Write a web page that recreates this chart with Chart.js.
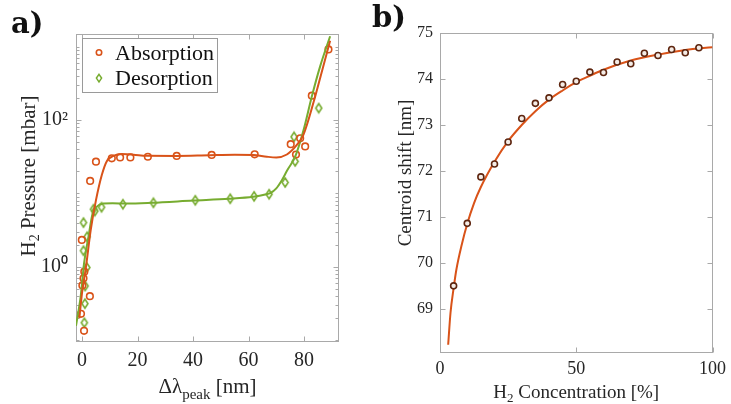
<!DOCTYPE html>
<html><head><meta charset="utf-8">
<script src="https://cdn.jsdelivr.net/npm/chart.js@4/dist/chart.umd.min.js"></script>
<style>
html,body{margin:0;padding:0;background:#fff;width:731px;height:404px;overflow:hidden}
#wa{position:absolute;left:0;top:0;width:365px;height:404px}
#wb{position:absolute;left:365px;top:0;width:366px;height:404px}
</style></head><body>
<div id="wa"><canvas id="ca"></canvas></div>
<div id="wb"><canvas id="cb"></canvas></div>
<script>
// ---------- panel a) data ----------
const absX = [-0.4, 0.7, 2.8, 0.1, 0.5, 0.8, -0.1, 2.9, 5.0, 10.7, 13.7, 17.4, 23.7, 34.1, 46.7, 62.2, 75.2, 77.1, 78.6, 80.4, 82.8, 88.8];
const absP = [0.23, 0.135, 0.40, 0.56, 0.70, 0.86, 2.33, 14.8, 27.1, 30.1, 30.9, 30.9, 31.6, 32.4, 33.4, 34.1, 46.8, 33.9, 56.2, 43.7, 214, 912];
const desX = [0.5, 1.8, 0.5, 1.7, 1.1, 1.0, 0.8, 4.1, 4.6, 7.0, 14.7, 25.7, 40.8, 53.4, 62.0, 67.4, 73.2, 76.8, 76.4, 85.3];
const desP = [4.01, 2.57, 1.66, 0.98, 0.55, 0.316, 0.174, 6.10, 5.75, 6.49, 7.13, 7.46, 8.07, 8.47, 9.12, 9.75, 14.1, 27.3, 58.9, 145];
const absFitX = [-1.0, 0.0, 1.4, 3.1, 5.0, 7.1, 8.9, 11.3, 14.3, 18.5, 23.3, 34, 46, 55, 61.7, 66.6, 70, 73.8, 77.4, 79.8, 83.5, 86, 89.4];
const absFitP = [0.20, 0.45, 1.0, 3.16, 8.1, 17.8, 27.5, 32.4, 34.3, 33.7, 32.5, 32.4, 33.1, 33.5, 33.4, 31.6, 30.9, 33.9, 45.7, 63.1, 178, 398, 1200];
const desFitX = [-2.2, -0.5, 0.7, 2.3, 3.8, 5.3, 7.7, 11, 16, 25, 40, 53, 61.7, 66, 68, 70, 72, 74, 76.8, 79.8, 82.8, 85.8, 89.4];
const desFitP = [0.158, 0.40, 1.12, 2.57, 5.37, 6.61, 7.28, 7.33, 7.28, 7.46, 8.0, 8.47, 9.02, 9.66, 10.2, 11.7, 15.1, 20.9, 31.6, 72.4, 209, 537, 1380];
const aXTicks = [0, 20, 40, 60, 80];
const aYTicks = [1, 100];
const aYTickLabels = ['10⁰', '10²'];
const aSeriesNames = ['Absorption', 'Desorption'];

// ---------- panel b) data ----------
const concX = [5, 10, 15, 20, 25, 30, 35, 40, 45, 50, 55, 60, 65, 70, 75, 80, 85, 90, 95];
const shiftY = [69.50, 70.86, 71.87, 72.15, 72.63, 73.14, 73.47, 73.59, 73.88, 73.95, 74.15, 74.14, 74.37, 74.33, 74.56, 74.51, 74.64, 74.57, 74.68];
const fitConcX = [3.0, 3.85, 5, 6, 8, 10, 12.5, 15, 20, 25, 30, 35, 40, 45, 50, 55, 60, 70, 80, 90, 100];
const fitShiftY = [68.22, 68.91, 69.45, 69.85, 70.4, 70.85, 71.3, 71.65, 72.2, 72.65, 73.0, 73.3, 73.55, 73.75, 73.93, 74.07, 74.2, 74.4, 74.53, 74.63, 74.69];
const bXTicks = [0, 50, 100];
const bYTicks = [69, 70, 71, 72, 73, 74, 75];

// ---------- styling ----------
const ORANGE = '#D95319', GREEN = '#77AC30', FRAME = '#a9a9a9', TXT = '#262626';
const SERIF = '"Liberation Serif", "Times New Roman", serif';
const pts = (xs, ys) => xs.map((x, i) => ({x: x, y: ys[i]}));

function diamondImg(color, w, h, lw) {
  const c = document.createElement('canvas');
  c.width = w + 4; c.height = h + 4;
  const g = c.getContext('2d');
  g.strokeStyle = color; g.lineWidth = lw;
  g.beginPath();
  g.moveTo(c.width / 2, 2); g.lineTo(c.width - 2, c.height / 2);
  g.lineTo(c.width / 2, c.height - 2); g.lineTo(2, c.height / 2);
  g.closePath(); g.stroke();
  return c;
}
const DIAMOND = diamondImg(GREEN, 6, 9, 1.6);

function rich(ctx, parts, x, y) {
  let w = 0;
  parts.forEach(p => { ctx.font = p[1] + 'px ' + SERIF; w += ctx.measureText(p[0]).width; });
  let cx = x - w / 2;
  ctx.textAlign = 'left'; ctx.textBaseline = 'alphabetic';
  parts.forEach(p => { ctx.font = p[1] + 'px ' + SERIF; ctx.fillText(p[0], cx, y + (p[2] || 0)); cx += ctx.measureText(p[0]).width; });
}

function panelPlugin(cfg) {
  return {
    id: 'panel_' + cfg.name,
    beforeDatasetsDraw(chart) {
      const ctx = chart.ctx, a = chart.chartArea, xs = chart.scales.x, ys = chart.scales.y;
      ctx.save();
      ctx.strokeStyle = FRAME; ctx.lineWidth = 1;
      ctx.beginPath();
      const L = Math.round(a.left) + 0.5, R = Math.round(a.right) - 0.5, T = Math.round(a.top) + 0.5, B = Math.round(a.bottom) - 0.5;
      cfg.xTicks.forEach(v => {
        const p = Math.round(xs.getPixelForValue(v)) + 0.5;
        ctx.moveTo(p, B); ctx.lineTo(p, B - 5); ctx.moveTo(p, T); ctx.lineTo(p, T + 5);
      });
      cfg.yTicks.forEach(v => {
        const p = Math.round(ys.getPixelForValue(v)) + 0.5;
        ctx.moveTo(L, p); ctx.lineTo(L + 5, p); ctx.moveTo(R, p); ctx.lineTo(R - 5, p);
      });
      if (cfg.logMinor) {
        for (let e = -2; e <= 4; e++) for (let k = 1; k <= 9; k++) {
          const v = k * Math.pow(10, e);
          if (v < ys.min || v > ys.max) continue;
          if (cfg.yTicks.some(t => Math.abs(t - v) < 1e-9)) continue;
          const p = Math.round(ys.getPixelForValue(v)) + 0.5;
          ctx.moveTo(L, p); ctx.lineTo(L + 3, p); ctx.moveTo(R, p); ctx.lineTo(R - 3, p);
        }
      }
      ctx.stroke();
      ctx.strokeRect(L, T, R - L, B - T);
      ctx.restore();
    },
    afterDraw(chart) {
      const ctx = chart.ctx, a = chart.chartArea;
      ctx.save();
      ctx.fillStyle = TXT;
      rich(ctx, cfg.xTitle, (a.left + a.right) / 2, cfg.xTitleBaseline);
      ctx.save();
      ctx.translate(cfg.yTitleX, cfg.yTitleY);
      ctx.rotate(-Math.PI / 2);
      rich(ctx, cfg.yTitle, 0, cfg.yTitleBase);
      ctx.restore();
      ctx.fillStyle = '#111';
      ctx.font = 'bold 29px "DejaVu Serif", serif';
      ctx.textAlign = 'left'; ctx.textBaseline = 'alphabetic';
      ctx.fillText(cfg.letter, cfg.letterX, cfg.letterY);
      if (cfg.legend) {
        const lg = cfg.legend;
        ctx.fillStyle = '#fff'; ctx.strokeStyle = '#9a9a9a'; ctx.lineWidth = 1;
        ctx.fillRect(lg.x, lg.y, lg.w, lg.h); ctx.strokeRect(lg.x + 0.5, lg.y + 0.5, lg.w, lg.h);
        ctx.font = '22px ' + SERIF; ctx.fillStyle = '#111';
        lg.items.forEach((it, i) => {
          const cy = lg.y + 14.5 + i * 25.6;
          if (it.kind === 'circle') {
            ctx.strokeStyle = ORANGE; ctx.lineWidth = 1.6;
            ctx.beginPath(); ctx.arc(lg.mx, cy, 2.7, 0, Math.PI * 2); ctx.stroke();
          } else {
            ctx.strokeStyle = GREEN; ctx.lineWidth = 1.5;
            ctx.beginPath(); ctx.moveTo(lg.mx, cy - 3.8); ctx.lineTo(lg.mx + 2.6, cy); ctx.lineTo(lg.mx, cy + 3.8); ctx.lineTo(lg.mx - 2.6, cy); ctx.closePath(); ctx.stroke();
          }
          ctx.fillStyle = '#111';
          ctx.textAlign = 'left'; ctx.textBaseline = 'alphabetic';
          ctx.fillText(it.text, lg.tx, cy + 7.2);
        });
      }
      ctx.restore();
    }
  };
}

Chart.defaults.font.family = SERIF;
Chart.defaults.color = TXT;

// ---------- chart a ----------
new Chart(document.getElementById('ca'), {
  type: 'line',
  data: {
    datasets: [
      {label: aSeriesNames[0], data: pts(absX, absP), showLine: false, pointStyle: 'circle', pointRadius: 3.3, pointBorderWidth: 1.6, pointBorderColor: ORANGE, pointBackgroundColor: 'rgba(0,0,0,0)', order: 1},
      {label: aSeriesNames[1], data: pts(desX, desP), showLine: false, pointStyle: DIAMOND, pointRadius: 4, order: 1},
      {label: aSeriesNames[0] + ' fit', data: pts(absFitX, absFitP), borderColor: ORANGE, borderWidth: 2, pointRadius: 0, cubicInterpolationMode: 'monotone', fill: false, order: 0},
      {label: aSeriesNames[1] + ' fit', data: pts(desFitX, desFitP), borderColor: GREEN, borderWidth: 2, pointRadius: 0, cubicInterpolationMode: 'monotone', fill: false, order: 0}
    ]
  },
  options: {
    responsive: true, maintainAspectRatio: false, animation: false, devicePixelRatio: 1, events: [],
    layout: {padding: {top: 34, right: 26, left: 0, bottom: 0}},
    plugins: {legend: {display: false}, tooltip: {enabled: false}},
    scales: {
      x: {
        type: 'linear', min: -2.2, max: 92.6,
        afterBuildTicks: s => { s.ticks = aXTicks.map(v => ({value: v})); },
        afterFit: s => { s.height = 62; },
        grid: {display: false, drawTicks: false}, border: {display: false},
        ticks: {padding: 7, font: {size: 20}, color: TXT, maxRotation: 0}
      },
      y: {
        type: 'logarithmic', min: 0.095, max: 1480,
        afterBuildTicks: s => { s.ticks = aYTicks.map(v => ({value: v})); },
        afterFit: s => { s.width = 76; },
        grid: {display: false, drawTicks: false}, border: {display: false},
        ticks: {padding: 8, font: {size: 20}, color: TXT, callback: (v, i) => aYTickLabels[i]}
      }
    }
  },
  plugins: [panelPlugin({
    name: 'a', xTicks: aXTicks, yTicks: aYTicks, logMinor: true,
    xTitle: [['Δλ', 21], ['peak', 15, 6], [' [nm]', 21]], xTitleBaseline: 393,
    yTitle: [['H', 21], ['2', 14, 4], [' Pressure [mbar]', 21]], yTitleX: 28, yTitleY: 176, yTitleBase: 7,
    letter: 'a)', letterX: 11, letterY: 33,
    legend: {x: 82, y: 38, w: 135, h: 54, mx: 99, tx: 115, items: [{kind: 'circle', text: aSeriesNames[0]}, {kind: 'diamond', text: aSeriesNames[1]}]}
  })]
});

// ---------- chart b ----------
new Chart(document.getElementById('cb'), {
  type: 'line',
  data: {
    datasets: [
      {label: 'Measured', data: pts(concX, shiftY), showLine: false, pointStyle: 'circle', pointRadius: 3, pointBorderWidth: 1.6, pointBorderColor: '#5e2610', pointBackgroundColor: '#f4ece6', order: 0},
      {label: 'Fit', data: pts(fitConcX, fitShiftY), borderColor: ORANGE, borderWidth: 2, pointRadius: 0, cubicInterpolationMode: 'monotone', fill: false, order: 1}
    ]
  },
  options: {
    responsive: true, maintainAspectRatio: false, animation: false, devicePixelRatio: 1, events: [],
    layout: {padding: {top: 33, right: 14, left: 0, bottom: 0}},
    plugins: {legend: {display: false}, tooltip: {enabled: false}},
    scales: {
      x: {
        type: 'linear', min: 0, max: 100,
        afterBuildTicks: s => { s.ticks = bXTicks.map(v => ({value: v})); },
        afterFit: s => { s.height = 51; },
        grid: {display: false, drawTicks: false}, border: {display: false},
        ticks: {padding: 5, font: {size: 18}, color: TXT, maxRotation: 0}
      },
      y: {
        type: 'linear', min: 68.04, max: 75,
        afterBuildTicks: s => { s.ticks = bYTicks.map(v => ({value: v})); },
        afterFit: s => { s.width = 75; },
        grid: {display: false, drawTicks: false}, border: {display: false},
        ticks: {padding: 7, font: {size: 16}, color: TXT}
      }
    }
  },
  plugins: [panelPlugin({
    name: 'b', xTicks: bXTicks, yTicks: bYTicks, logMinor: false,
    xTitle: [['H', 19], ['2', 13, 4], [' Concentration [%]', 19]], xTitleBaseline: 398,
    yTitle: [['Centroid shift [nm]', 19]], yTitleX: 40, yTitleY: 173, yTitleBase: 6,
    letter: 'b)', letterX: 7, letterY: 27,
    legend: null
  })]
});
</script>
</body></html>
